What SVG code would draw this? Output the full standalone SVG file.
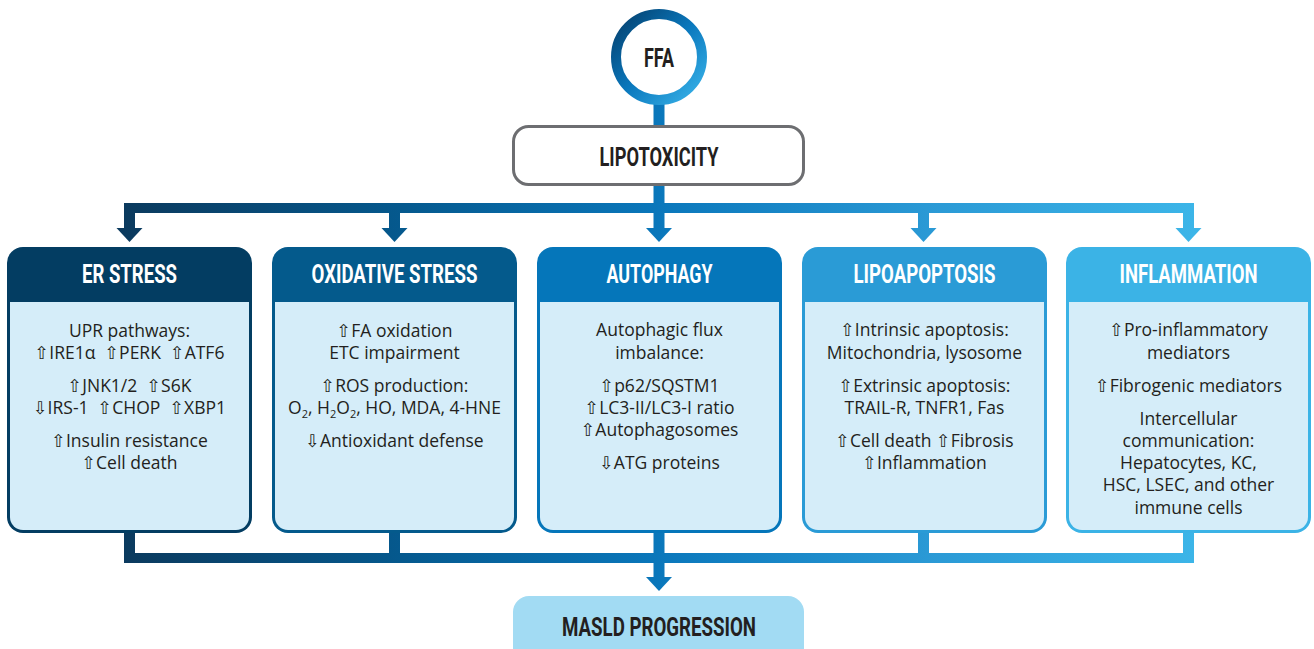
<svg xmlns="http://www.w3.org/2000/svg" width="1314" height="649" viewBox="0 0 1314 649">
<defs>
<linearGradient id="g" gradientUnits="userSpaceOnUse" x1="124" y1="0" x2="1194" y2="0">
<stop offset="0" stop-color="#0b3a5e"/>
<stop offset="0.26" stop-color="#05598e"/>
<stop offset="0.5" stop-color="#0a77bb"/>
<stop offset="0.75" stop-color="#2a99d5"/>
<stop offset="1" stop-color="#3cb5e8"/>
</linearGradient>
<linearGradient id="gc" x1="0" y1="0" x2="1" y2="1">
<stop offset="0" stop-color="#053f6c"/>
<stop offset="0.5" stop-color="#0a78bd"/>
<stop offset="1" stop-color="#3ab4ea"/>
</linearGradient>
<path id="body" d="M3,302 H242 V517 A13,13 0 0 1 229,530 H16 A13,13 0 0 1 3,517 Z"/>
</defs>
<style>
.hd{font-family:Roboto,"Liberation Sans",sans-serif;font-weight:700;font-size:25px;fill:#fff;text-anchor:middle}
.bk{font-family:Roboto,"Liberation Sans",sans-serif;font-weight:700;font-size:25px;fill:#231f20;text-anchor:middle}
.tx{font-family:"Open Sans","DejaVu Sans",sans-serif;font-size:17.5px;fill:#231f20;text-anchor:middle;white-space:pre}
.sub{font-size:11px}
.bodyfill{fill:#d5edf9}
.c1{fill:#033d62}.c2{fill:#045a8c}.c3{fill:#0576ba}.c4{fill:#2a9bd6}.c5{fill:#3bb3e6}
</style>
<rect width="1314" height="649" fill="#fff"/>

<g id="connectors" fill="url(#g)">
<rect x="653.5" y="100" width="11" height="27"/>
<rect x="653.5" y="184" width="11" height="20"/>
<rect x="124" y="203" width="1070" height="10"/>
<rect x="124" y="203" width="11" height="26"/>
<rect x="389" y="203" width="11" height="26"/>
<rect x="653.5" y="203" width="11" height="26"/>
<rect x="918" y="203" width="11" height="26"/>
<rect x="1183" y="203" width="11" height="26"/>
<polygon points="116.5,228 142.5,228 129.5,242"/>
<polygon points="381.5,228 407.5,228 394.5,242"/>
<polygon points="646,228 672,228 659,242"/>
<polygon points="910.5,228 936.5,228 923.5,242"/>
<polygon points="1175.5,228 1201.5,228 1188.5,242"/>
<rect x="124" y="530" width="11" height="33"/>
<rect x="389" y="530" width="11" height="33"/>
<rect x="653.5" y="530" width="11" height="48"/>
<rect x="918" y="530" width="11" height="33"/>
<rect x="1183" y="530" width="11" height="33"/>
<rect x="124" y="553" width="1070" height="10"/>
<polygon points="646,577 672,577 659,591"/>
</g>

<g id="ffa">
<circle cx="659" cy="57" r="43" fill="#fff" stroke="url(#gc)" stroke-width="10"/>
<text class="bk" x="659" y="67" textLength="30" lengthAdjust="spacingAndGlyphs">FFA</text>
</g>

<g id="lipotoxicity">
<rect x="513.5" y="126.5" width="290" height="58" rx="15" fill="#fff" stroke="#6d6e71" stroke-width="3"/>
<text class="bk" x="659" y="166" textLength="119" lengthAdjust="spacingAndGlyphs">LIPOTOXICITY</text>
</g>

<g id="er-stress">
<rect class="c1" x="7" y="247" width="245" height="286" rx="16"/>
<use href="#body" x="7" class="bodyfill"/>
<text class="hd" x="129.5" y="283" textLength="95" lengthAdjust="spacingAndGlyphs">ER STRESS</text>
<text class="tx" x="129.5" y="337">UPR pathways:</text>
<text class="tx" x="129.5" y="359">⇧IRE1α  ⇧PERK  ⇧ATF6</text>
<text class="tx" x="129.5" y="392">⇧JNK1/2  ⇧S6K</text>
<text class="tx" x="129.5" y="414">⇩IRS-1  ⇧CHOP  ⇧XBP1</text>
<text class="tx" x="129.5" y="447">⇧Insulin resistance</text>
<text class="tx" x="129.5" y="469">⇧Cell death</text>
</g>

<g id="oxidative-stress">
<rect class="c2" x="272" y="247" width="245" height="286" rx="16"/>
<use href="#body" x="272" class="bodyfill"/>
<text class="hd" x="394.5" y="283" textLength="166" lengthAdjust="spacingAndGlyphs">OXIDATIVE STRESS</text>
<text class="tx" x="394.5" y="337">⇧FA oxidation</text>
<text class="tx" x="394.5" y="359">ETC impairment</text>
<text class="tx" x="394.5" y="392">⇧ROS production:</text>
<text class="tx" x="394.5" y="414">O<tspan class="sub" dy="4">2</tspan><tspan dy="-4">, H</tspan><tspan class="sub" dy="4">2</tspan><tspan dy="-4">O</tspan><tspan class="sub" dy="4">2</tspan><tspan dy="-4">, HO, MDA, 4-HNE</tspan></text>
<text class="tx" x="394.5" y="447">⇩Antioxidant defense</text>
</g>

<g id="autophagy">
<rect class="c3" x="537" y="247" width="245" height="286" rx="16"/>
<use href="#body" x="537" class="bodyfill"/>
<text class="hd" x="659.5" y="283" textLength="106" lengthAdjust="spacingAndGlyphs">AUTOPHAGY</text>
<text class="tx" x="659.5" y="336">Autophagic flux</text>
<text class="tx" x="659.5" y="359">imbalance:</text>
<text class="tx" x="659.5" y="392">⇧p62/SQSTM1</text>
<text class="tx" x="659.5" y="414">⇧LC3-II/LC3-I ratio</text>
<text class="tx" x="659.5" y="436">⇧Autophagosomes</text>
<text class="tx" x="659.5" y="469">⇩ATG proteins</text>
</g>

<g id="lipoapoptosis">
<rect class="c4" x="802" y="247" width="245" height="286" rx="16"/>
<use href="#body" x="802" class="bodyfill"/>
<text class="hd" x="924.5" y="283" textLength="142" lengthAdjust="spacingAndGlyphs">LIPOAPOPTOSIS</text>
<text class="tx" x="924.5" y="336">⇧Intrinsic apoptosis:</text>
<text class="tx" x="924.5" y="359">Mitochondria, lysosome</text>
<text class="tx" x="924.5" y="392">⇧Extrinsic apoptosis:</text>
<text class="tx" x="924.5" y="414">TRAIL-R, TNFR1, Fas</text>
<text class="tx" x="924.5" y="447">⇧Cell death ⇧Fibrosis</text>
<text class="tx" x="924.5" y="469">⇧Inflammation</text>
</g>

<g id="inflammation">
<rect class="c5" x="1066" y="247" width="245" height="286" rx="16"/>
<use href="#body" x="1066" class="bodyfill"/>
<text class="hd" x="1188.5" y="283" textLength="138" lengthAdjust="spacingAndGlyphs">INFLAMMATION</text>
<text class="tx" x="1188.5" y="336">⇧Pro-inflammatory</text>
<text class="tx" x="1188.5" y="359">mediators</text>
<text class="tx" x="1188.5" y="392">⇧Fibrogenic mediators</text>
<text class="tx" x="1188.5" y="425">Intercellular</text>
<text class="tx" x="1188.5" y="447">communication:</text>
<text class="tx" x="1188.5" y="469">Hepatocytes, KC,</text>
<text class="tx" x="1188.5" y="491">HSC, LSEC, and other</text>
<text class="tx" x="1188.5" y="514">immune cells</text>
</g>

<g id="masld-progression">
<rect x="513" y="596" width="291" height="72" rx="16" fill="#a2dbf3"/>
<text class="bk" x="659" y="636" textLength="194" lengthAdjust="spacingAndGlyphs">MASLD PROGRESSION</text>
</g>
</svg>
